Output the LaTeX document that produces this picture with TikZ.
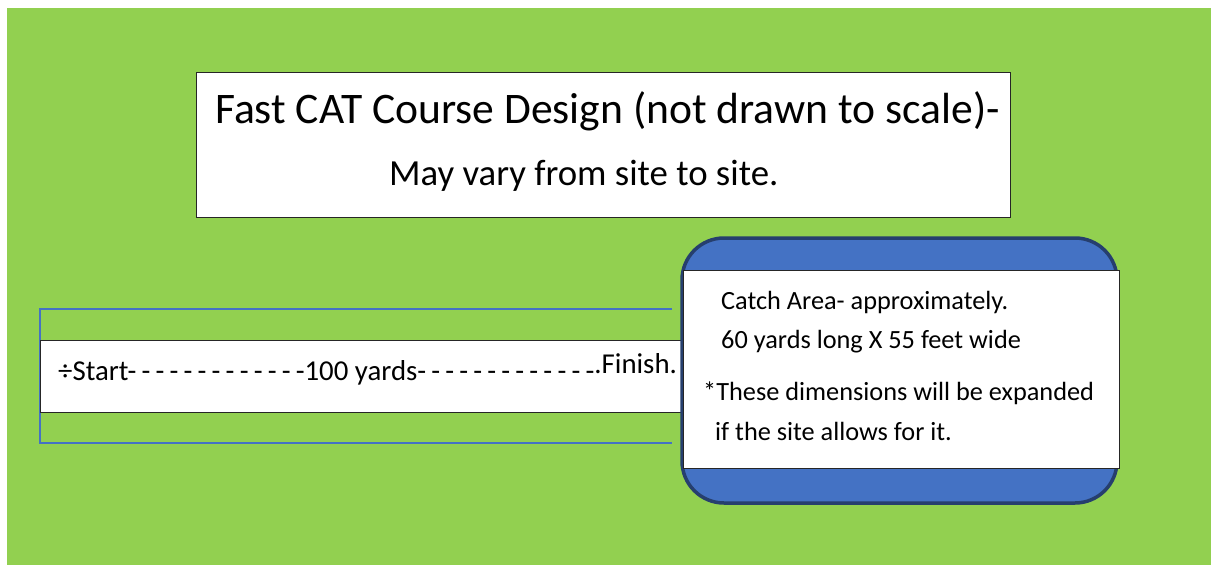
\documentclass[tikz,border=0pt]{standalone}
\usepackage{fontspec}
\setmainfont{Carlito}
\usepackage{xcolor}
\usepackage{tikz}
\usetikzlibrary{positioning}
\definecolor{fieldgreen}{HTML}{92D050}
\definecolor{catchblue}{HTML}{4472C4}
\definecolor{catchedge}{HTML}{263F6E}
\tikzstyle{panel} = [rectangle, draw=black!85, fill=white, line width=0.9pt, inner sep=0pt]
\tikzstyle{catcharea} = [rectangle, draw=catchedge, fill=catchblue, line width=3.5pt, rounded corners=42pt, inner sep=0pt]
\tikzstyle{textline} = [anchor=base west, inner sep=0pt]
\tikzstyle{lane} = [draw=catchblue, line width=1.5pt]
\newcommand\dashrun[1]{-\foreach \d in {2,...,#1}{\kern5.2pt-}}
\newcommand\catchfont{\fontsize{26.3}{31}\selectfont}

\begin{document}
\begin{tikzpicture}[x=1pt, y=-1pt]

\useasboundingbox (0,0) rectangle (1211,565);
\fill[fieldgreen] (7,8) rectangle (1211,565);

% Title box
\node[panel, minimum width=814pt, minimum height=145pt] (titlebox) at (603,144.5) {};
\node[textline, font=\fontsize{43.6}{50}\selectfont] (title) at (215,123) {Fast CAT Course Design (not drawn to scale)-};
\node[textline, font=\fontsize{36.8}{42}\selectfont] (subtitle) at (389,185) {May vary from site to site.};

% Lane guides round the running strip
\coordinate (laneTR) at (672,309);
\coordinate (laneTL) at (40,309);
\coordinate (laneBL) at (40,443);
\coordinate (laneBR) at (672,443);
\draw[lane] (laneTR) -- (laneTL) -- (laneBL) -- (laneBR);

% Running strip
\node[panel, minimum width=643pt, minimum height=72pt] (strip) at (361.5,376) {};
\node[textline, font=\fontsize{28.8}{34}\selectfont] (run) at (58,380) {÷Start\dashrun{13}100 yards\dashrun{13}\raisebox{7pt}{.Finish.}};

% Catch area
\node[catcharea, minimum width=435pt, minimum height=265pt] (catch) at (899.5,370.5) {};
\node[panel, minimum width=436pt, minimum height=198pt] (catchnote) at (901,369) {};
\node[textline, font=\catchfont] (catch1) at (721,309) {Catch Area- approximately.};
\node[textline, font=\catchfont] (catch2) at (721,348) {60 yards long X 55 feet wide};
\node[textline, font=\catchfont] (catch3) at (703,400) {*These dimensions will be expanded};
\node[textline, font=\catchfont] (catch4) at (715,440) {if the site allows for it.};

\end{tikzpicture}
\end{document}
